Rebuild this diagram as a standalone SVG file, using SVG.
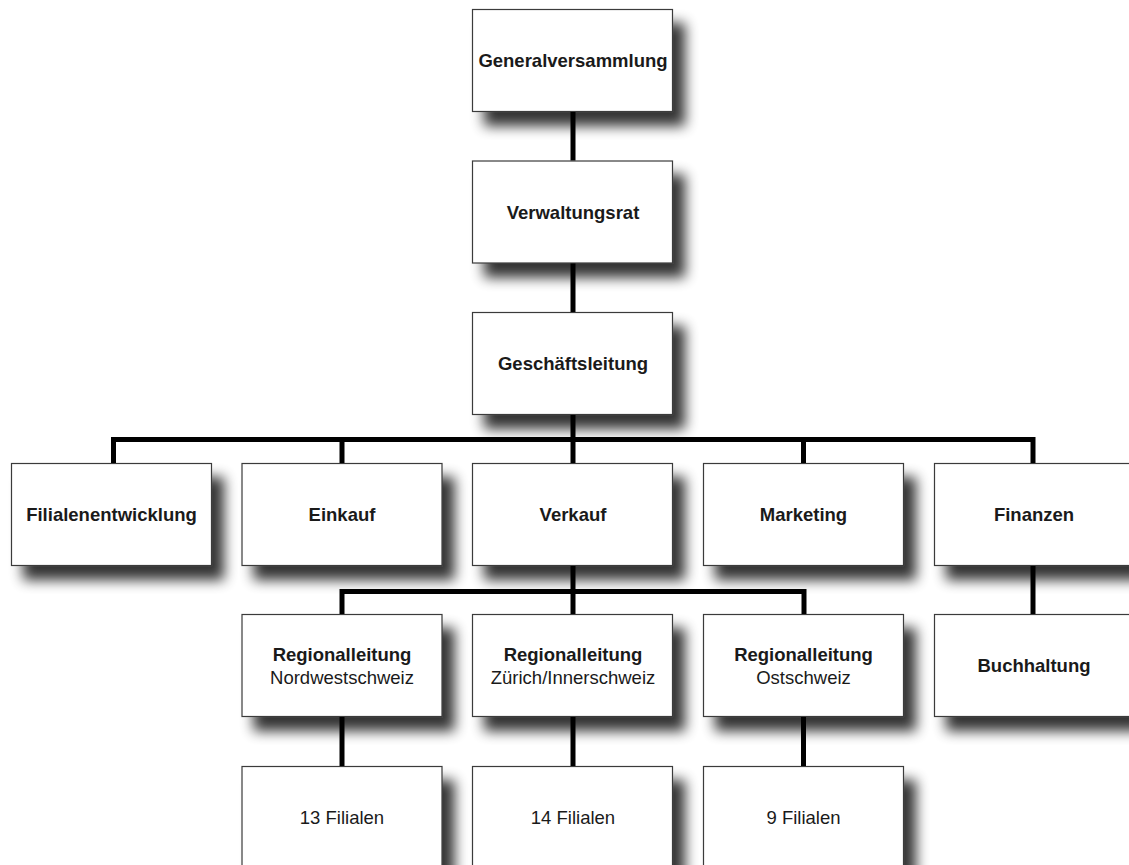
<svg xmlns="http://www.w3.org/2000/svg" width="1129" height="865" viewBox="0 0 1129 865">
<defs>
<filter id="sh" x="-20%" y="-20%" width="150%" height="170%">
<feGaussianBlur in="SourceAlpha" stdDeviation="6.5"/>
<feOffset dx="12" dy="14" result="b"/>
<feComponentTransfer><feFuncA type="linear" slope="0.8"/></feComponentTransfer>
<feMerge><feMergeNode/><feMergeNode in="SourceGraphic"/></feMerge>
</filter>
<style>
.box{fill:#fff;stroke:#3a3a3a;stroke-width:1.2;filter:url(#sh)}
.b{font-family:"Liberation Sans",Arial,sans-serif;font-weight:bold;font-size:18.5px;fill:#1a1a1a;text-anchor:middle}
.r{font-family:"Liberation Sans",Arial,sans-serif;font-size:18.5px;fill:#1a1a1a;text-anchor:middle}
.c{fill:none;stroke:#000;stroke-width:5;stroke-linejoin:miter;stroke-linecap:butt}
</style>
</defs>
<rect width="1129" height="865" fill="#fff"/>

<g id="generalversammlung"><rect class="box" x="472.5" y="9.5" width="200" height="102"/><text class="b" x="573" y="67">Generalversammlung</text></g>
<g id="verwaltungsrat"><rect class="box" x="472.5" y="161" width="200" height="102"/><text class="b" x="573" y="218.5">Verwaltungsrat</text></g>
<g id="geschaeftsleitung"><rect class="box" x="472.5" y="312.5" width="200" height="102"/><text class="b" x="573" y="370">Geschäftsleitung</text></g>

<g id="filialenentwicklung"><rect class="box" x="11.5" y="463.5" width="200" height="102"/><text class="b" x="111.5" y="521">Filialenentwicklung</text></g>
<g id="einkauf"><rect class="box" x="242" y="463.5" width="200" height="102"/><text class="b" x="342" y="521">Einkauf</text></g>
<g id="verkauf"><rect class="box" x="472.5" y="463.5" width="200" height="102"/><text class="b" x="573" y="521">Verkauf</text></g>
<g id="marketing"><rect class="box" x="703.5" y="463.5" width="200" height="102"/><text class="b" x="803.5" y="521">Marketing</text></g>
<g id="finanzen"><rect class="box" x="934.5" y="463.5" width="200" height="102"/><text class="b" x="1034" y="521">Finanzen</text></g>

<g id="regio-nordwest"><rect class="box" x="242" y="614.5" width="200" height="102"/><text class="b" x="342" y="661">Regionalleitung</text><text class="r" x="342" y="684">Nordwestschweiz</text></g>
<g id="regio-zuerich"><rect class="box" x="472.5" y="614.5" width="200" height="102"/><text class="b" x="573" y="661">Regionalleitung</text><text class="r" x="573" y="684">Zürich/Innerschweiz</text></g>
<g id="regio-ost"><rect class="box" x="703.5" y="614.5" width="200" height="102"/><text class="b" x="803.5" y="661">Regionalleitung</text><text class="r" x="803.5" y="684">Ostschweiz</text></g>
<g id="buchhaltung"><rect class="box" x="934.5" y="614.5" width="200" height="102"/><text class="b" x="1034" y="672">Buchhaltung</text></g>

<g id="filialen-13"><rect class="box" x="242" y="766.5" width="200" height="102"/><text class="r" x="342" y="824">13 Filialen</text></g>
<g id="filialen-14"><rect class="box" x="472.5" y="766.5" width="200" height="102"/><text class="r" x="573" y="824">14 Filialen</text></g>
<g id="filialen-9"><rect class="box" x="703.5" y="766.5" width="200" height="102"/><text class="r" x="803.5" y="824">9 Filialen</text></g>

<g id="connectors">
<path class="c" d="M573 112 V160.5 M573 263.5 V312 M573 415 V463"/>
<path class="c" d="M113.5 463 V439.5 H1033 V463 M342 439.5 V463 M803.5 439.5 V463"/>
<path class="c" d="M573 566 V614 M342 614 V591.5 H804 V614"/>
<path class="c" d="M1033 566 V614"/>
<path class="c" d="M342 717 V766 M573 717 V766 M803.5 717 V766"/>
</g>
</svg>
